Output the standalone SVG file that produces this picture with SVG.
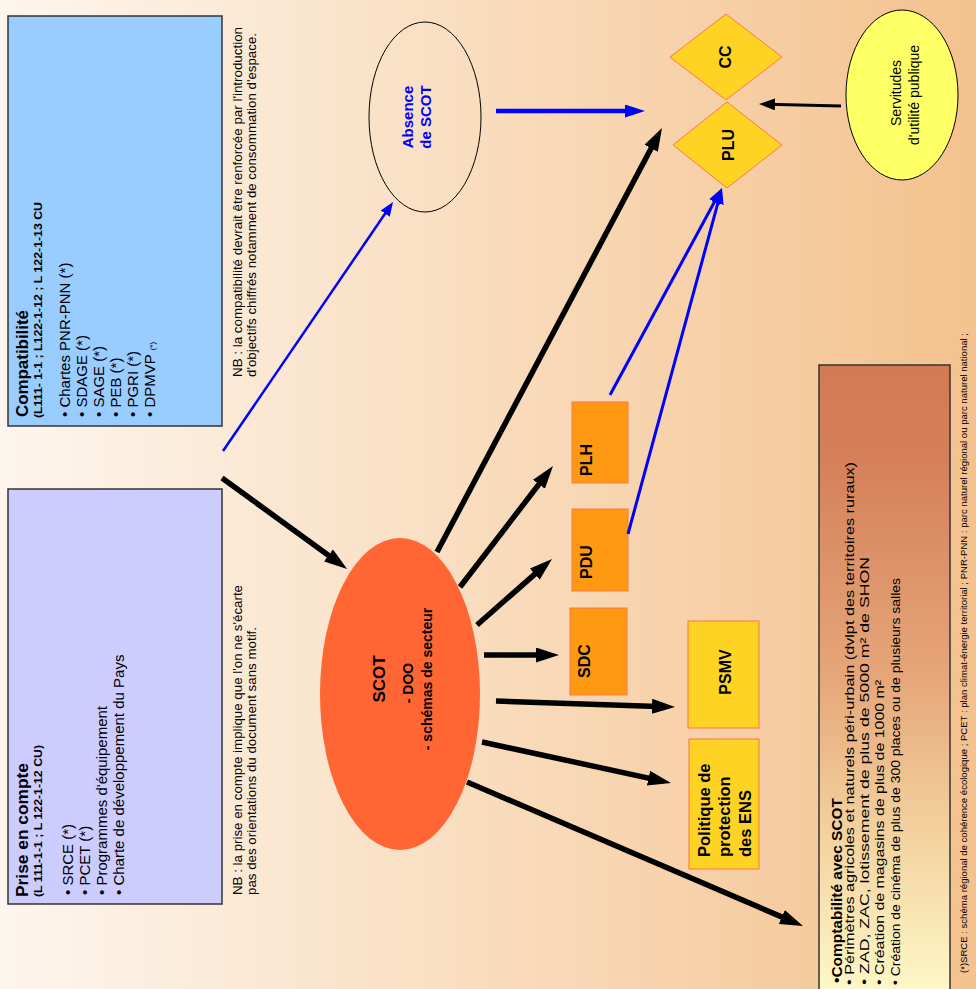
<svg xmlns="http://www.w3.org/2000/svg" width="976" height="989" viewBox="0 0 976 989">
<defs>
<linearGradient id="bg" x1="0" y1="0" x2="1" y2="0">
<stop offset="0" stop-color="#fdf6ee"/>
<stop offset="0.5" stop-color="#f9dcbd"/>
<stop offset="1" stop-color="#f4c28e"/>
</linearGradient>
<linearGradient id="cmp" x1="0" y1="0" x2="0" y2="1">
<stop offset="0" stop-color="#d37a53"/>
<stop offset="0.15" stop-color="#d5805a"/>
<stop offset="0.5" stop-color="#e6a77a"/>
<stop offset="0.75" stop-color="#f3d3a0"/>
<stop offset="1" stop-color="#fff8c8"/>
</linearGradient>
<marker id="hb" markerUnits="userSpaceOnUse" markerWidth="23" markerHeight="15" refX="13" refY="7.5" orient="auto"><path d="M0,0 L23,7.5 L0,15 z" fill="#000"/></marker>
<marker id="hbs" markerUnits="userSpaceOnUse" markerWidth="16" markerHeight="12" refX="8" refY="6" orient="auto"><path d="M0,0 L16,6 L0,12 z" fill="#000"/></marker>
<marker id="hblue" markerUnits="userSpaceOnUse" markerWidth="20" markerHeight="13" refX="10" refY="6.5" orient="auto"><path d="M0,0 L20,6.5 L0,13 z" fill="#0000ff"/></marker>
<marker id="hblues" markerUnits="userSpaceOnUse" markerWidth="16" markerHeight="12" refX="8" refY="6" orient="auto"><path d="M0,0 L16,6 L0,12 z" fill="#0000ff"/></marker>
<marker id="hbluet" markerUnits="userSpaceOnUse" markerWidth="14" markerHeight="11" refX="7" refY="5.5" orient="auto"><path d="M0,0 L14,5.5 L0,11 z" fill="#0000ff"/></marker>
</defs>
<style>
text{font-family:"Liberation Sans",Arial,sans-serif;fill:#000}
.b{font-weight:bold}
.t17{font-size:17px;font-weight:bold}
.ref{font-size:11px;font-weight:bold}
.li{font-size:15px}
.nb{font-size:13px}
.cl{font-size:13px}
.lab{font-size:16px;font-weight:bold;text-anchor:middle}
.m{text-anchor:middle}
.box{stroke:#333;stroke-width:1.5}
.org{fill:#ff9911;stroke:#ff7744;stroke-width:1}
.yel{fill:#ffd324;stroke:#ff7744;stroke-width:1}
.blk{fill:none;stroke:#000;stroke-width:5.5;marker-end:url(#hb)}
.blu{fill:none;stroke:#0000ff}
</style>
<rect x="0" y="0" width="976" height="989" fill="url(#bg)"/>

<g id="compatibilite">
<rect class="box" x="8" y="16" width="214" height="410" fill="#99ccff"/>
<text class="t17" textLength="107" lengthAdjust="spacingAndGlyphs" transform="translate(28,417) rotate(-90)">Compatibilité</text>
<text class="ref" textLength="216" lengthAdjust="spacingAndGlyphs" transform="translate(42,418) rotate(-90)">(L111- 1-1 ; L122-1-12 ; L 122-1-13 CU</text>
<text class="li" transform="translate(70,417) rotate(-90)">• Chartes PNR-PNN (*)</text>
<text class="li" transform="translate(87,417) rotate(-90)">• SDAGE (*)</text>
<text class="li" transform="translate(104,417) rotate(-90)">• SAGE (*)</text>
<text class="li" transform="translate(121,417) rotate(-90)">• PEB (*)</text>
<text class="li" transform="translate(138,417) rotate(-90)">• PGRI (*)</text>
<text class="li" transform="translate(155,417) rotate(-90)">• DPMVP <tspan font-size="8">(*)</tspan></text>
</g>

<g id="nb-compatibilite">
<text class="nb" textLength="350" lengthAdjust="spacingAndGlyphs" transform="translate(242,377) rotate(-90)">NB : la compatibilité devrait être renforcée par l'introduction</text>
<text class="nb" textLength="344" lengthAdjust="spacingAndGlyphs" transform="translate(256,377) rotate(-90)">d'objectifs chiffrés notamment de consommation d'espace.</text>
</g>

<g id="prise-en-compte">
<rect class="box" x="8" y="489" width="214" height="415" fill="#ccccff"/>
<text class="t17" textLength="134" lengthAdjust="spacingAndGlyphs" transform="translate(28,897) rotate(-90)">Prise en compte</text>
<text class="ref" textLength="152" lengthAdjust="spacingAndGlyphs" transform="translate(42,897) rotate(-90)">(L 111-1-1 ; L 122-1-12 CU)</text>
<text class="li" transform="translate(73,895) rotate(-90)">• SRCE (*)</text>
<text class="li" transform="translate(90,895) rotate(-90)">• PCET (*)</text>
<text class="li" transform="translate(107,895) rotate(-90)">• Programmes d'équipement</text>
<text class="li" transform="translate(124,895) rotate(-90)">• Charte de développement du Pays</text>
</g>

<g id="nb-prise">
<text class="nb" textLength="310" lengthAdjust="spacingAndGlyphs" transform="translate(242,895) rotate(-90)">NB : la prise en compte implique que l'on ne s'écarte</text>
<text class="nb" textLength="268" lengthAdjust="spacingAndGlyphs" transform="translate(256,895) rotate(-90)">pas des orientations du document sans motif.</text>
</g>

<g id="comptabilite-scot">
<rect class="box" x="819" y="365" width="131" height="630" fill="url(#cmp)"/>
<text class="b" font-size="15.5" textLength="185" lengthAdjust="spacingAndGlyphs" transform="translate(842,983) rotate(-90)">•Comptabilité avec SCOT</text>
<text class="cl" textLength="523" lengthAdjust="spacingAndGlyphs" transform="translate(854,985) rotate(-90)">• Périmètres agricoles et naturels péri-urbain (dvlpt des territoires ruraux)</text>
<text class="cl" textLength="428" lengthAdjust="spacingAndGlyphs" transform="translate(869,985) rotate(-90)">• ZAD, ZAC, lotissement de plus de 5000 m² de SHON</text>
<text class="cl" textLength="305" lengthAdjust="spacingAndGlyphs" transform="translate(884,985) rotate(-90)">• Création de magasins de plus de 1000 m²</text>
<text class="cl" textLength="407" lengthAdjust="spacingAndGlyphs" transform="translate(899.5,985) rotate(-90)">• Création de cinéma de plus de 300 places ou de plusieurs salles</text>
</g>

<g id="footnote">
<text font-size="9" textLength="640" lengthAdjust="spacingAndGlyphs" transform="translate(967,973) rotate(-90)">(*)SRCE : schéma régional de cohérence écologique ; PCET : plan climat-énergie territorial ; PNR-PNN : parc naturel régional ou parc naturel national ;</text>
</g>

<g id="absence-scot">
<ellipse cx="425" cy="117" rx="56" ry="95" fill="none" stroke="#000" stroke-width="1"/>
<text class="b m" font-size="15" style="fill:#0000ff" transform="translate(413,117) rotate(-90)">Absence</text>
<text class="b m" font-size="15" style="fill:#0000ff" transform="translate(431,117) rotate(-90)">de SCOT</text>
</g>

<g id="cc">
<polygon class="yel" points="670,57 726,14 782,57 726,100"/>
<text class="lab" transform="translate(731,57) rotate(-90)">CC</text>
</g>

<g id="plu">
<polygon class="yel" points="673,145 727,102 782,145 727,188"/>
<text class="lab" transform="translate(734,145) rotate(-90)">PLU</text>
</g>

<g id="servitudes">
<ellipse cx="902" cy="95" rx="56" ry="85" fill="#ffff66" stroke="#000" stroke-width="1"/>
<text class="m" font-size="14" transform="translate(901,93) rotate(-90)">Servitudes</text>
<text class="m" font-size="14" transform="translate(919,95) rotate(-90)">d'utilité publique</text>
</g>

<g id="scot">
<ellipse cx="400" cy="694" rx="80" ry="156" fill="#ff6633"/>
<text class="b m" font-size="17" transform="translate(385,679) rotate(-90)">SCOT</text>
<text class="b m" font-size="14" transform="translate(413,683) rotate(-90)">- DOO</text>
<text class="b m" font-size="14" transform="translate(432,679) rotate(-90)">- schémas de secteur</text>
</g>

<g id="plh">
<rect class="org" x="572" y="402" width="56" height="81"/>
<text class="lab" transform="translate(592,460) rotate(-90)">PLH</text>
</g>

<g id="pdu">
<rect class="org" x="572" y="509" width="56" height="82"/>
<text class="lab" transform="translate(592,562) rotate(-90)">PDU</text>
</g>

<g id="sdc">
<rect class="org" x="570" y="608" width="57" height="87"/>
<text class="lab" transform="translate(590,661) rotate(-90)">SDC</text>
</g>

<g id="psmv">
<rect class="yel" x="688" y="621" width="71" height="107"/>
<text class="lab" transform="translate(731,672) rotate(-90)">PSMV</text>
</g>

<g id="ens">
<rect class="yel" x="689" y="739" width="70" height="130"/>
<text class="b" font-size="16.5" transform="translate(709.5,857) rotate(-90)">Politique de</text>
<text class="b" font-size="16.5" transform="translate(730,857) rotate(-90)">protection</text>
<text class="b" font-size="16.5" transform="translate(750.5,857) rotate(-90)">des ENS</text>
</g>

<g id="connectors">
<path class="blk" d="M222,478 L339,563"/>
<path class="blk" stroke-width="6" d="M437,552 L657.3,136.8"/>
<path class="blk" d="M460,587 L546.9,473.9"/>
<path class="blk" d="M477,625 L544.5,565.6"/>
<path class="blk" d="M484,655 L549,655"/>
<path class="blk" d="M496,701 L665,706.7"/>
<path class="blk" d="M482,742 L661.2,780.9"/>
<path class="blk" d="M467,782 L793.8,922.1"/>
<path fill="none" stroke="#000" stroke-width="3" marker-end="url(#hbs)" d="M841,106 L767,104.2"/>
<path class="blu" stroke-width="4.5" marker-end="url(#hblue)" d="M496,111 L635,111"/>
<path class="blu" stroke-width="2.5" marker-end="url(#hbluet)" d="M223,451 L389.1,207.8"/>
<path class="blu" stroke-width="3" marker-end="url(#hblues)" d="M610,395 L718.2,195"/>
<path class="blu" stroke-width="3" marker-end="url(#hblues)" d="M628,534 L719.9,195.7"/>
</g>
</svg>
